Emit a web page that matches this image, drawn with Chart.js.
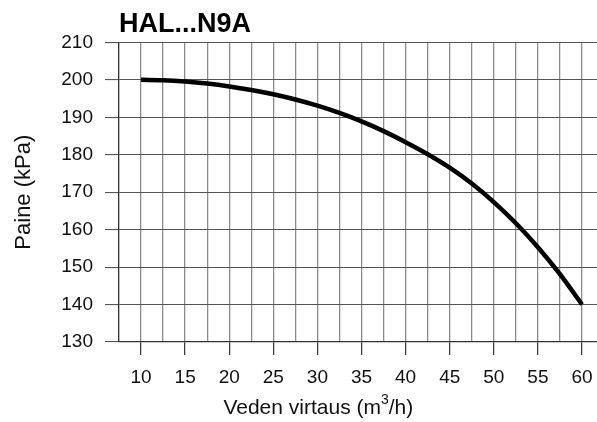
<!DOCTYPE html>
<html>
<head>
<meta charset="utf-8">
<script src="https://cdn.jsdelivr.net/npm/chart.js@4/dist/chart.umd.min.js"></script>
<style>
  body { margin: 0; background: #fff; }
  canvas { display: block; }
</style>
</head>
<body>
<canvas id="pumpChart" width="597" height="422"></canvas>
<script>
// Käyrän arvot luettu kuvasta
const chartTitle = "HAL...N9A";
const flow = [10, 12.5, 15, 17.5, 20, 22.5, 25, 27.5, 30, 32.5, 35, 37.5, 40, 42.5, 45, 47.5, 50, 52.5, 55, 57.5, 60];
const pressure = [200, 199.9, 199.55, 199.0, 198.25, 197.3, 196.15, 194.75, 193.1, 191.15, 188.9, 186.3, 183.35, 180.15, 176.55, 172.3, 167.35, 161.7, 155.3, 148.1, 140];
const xGridValues = [7.5, 10, 12.5, 15, 17.5, 20, 22.5, 25, 27.5, 30, 32.5, 35, 37.5, 40, 42.5, 45, 47.5, 50, 52.5, 55, 57.5, 60];
const yTitle = "Paine (kPa)";
const xTitleParts = ["Veden virtaus (m", "3", "/h)"];

const FONT = "'Liberation Sans', Arial, Helvetica, sans-serif";

// x-akselin otsikko yläindeksillä
const xTitlePlugin = {
  id: "xTitle",
  afterDraw(chart) {
    const ctx = chart.ctx;
    const xs = chart.scales.x;
    const cx = xs.getPixelForValue(30.1);
    const y = xs.bottom - 14;
    ctx.save();
    ctx.fillStyle = "#111";
    ctx.textBaseline = "middle";
    ctx.textAlign = "left";
    ctx.font = "21px " + FONT;
    const w1 = ctx.measureText(xTitleParts[0]).width;
    const w3 = ctx.measureText(xTitleParts[2]).width;
    ctx.font = "14px " + FONT;
    const w2 = ctx.measureText(xTitleParts[1]).width;
    let x = cx - (w1 + w2 + w3) / 2;
    ctx.font = "21px " + FONT;
    ctx.fillText(xTitleParts[0], x, y);
    x += w1;
    ctx.font = "14px " + FONT;
    ctx.fillText(xTitleParts[1], x, y - 8);
    x += w2;
    ctx.font = "21px " + FONT;
    ctx.fillText(xTitleParts[2], x, y);
    ctx.restore();
  }
};

const ctx = document.getElementById("pumpChart").getContext("2d");

const chart = new Chart(ctx, {
  type: "line",
  data: {
    datasets: [
      {
        data: flow.map((f, i) => ({ x: f, y: pressure[i] })),
        borderColor: "#000",
        borderWidth: 4.5,
        pointRadius: 0,
        cubicInterpolationMode: "monotone",
        fill: false,
      },
    ],
  },
  options: {
    responsive: false,
    animation: false,
    devicePixelRatio: 1,
    layout: { padding: 0 },
    plugins: {
      legend: { display: false },
      tooltip: { enabled: false },
      title: {
        display: true,
        text: chartTitle,
        align: "start",
        fullSize: false,
        color: "#000",
        font: { family: FONT, size: 27, weight: "bold" },
        padding: { top: 8, bottom: 2 },
      },
    },
    scales: {
      x: {
        type: "linear",
        min: 7.5,
        max: 61.7,
        afterBuildTicks: (axis) => {
          axis.ticks = xGridValues.map((v) => ({ value: v }));
        },
        afterFit: (scale) => {
          scale.height = 80;
          scale.paddingLeft = 0;
          scale.paddingRight = 0;
        },
        grid: {
          color: "#8c8c8c",
          lineWidth: 1.3,
          tickLength: 13,
          tickColor: (c) => (c.tick && c.tick.value % 5 === 0 ? "#333" : "rgba(0,0,0,0)"),
          tickWidth: 1.2,
        },
        border: { color: "#333", width: 1.2 },
        ticks: {
          autoSkip: false,
          maxRotation: 0,
          padding: 11,
          color: "#111",
          font: { family: FONT, size: 19 },
          callback: (v) => (v % 5 === 0 ? v : ""),
        },
      },
      y: {
        min: 130,
        max: 210,
        afterFit: (scale) => {
          scale.width = 119;
        },
        grid: {
          color: "#555",
          lineWidth: 1.1,
          tickLength: 14,
        },
        border: { color: "#333", width: 1.2 },
        ticks: {
          stepSize: 10,
          padding: 12,
          color: "#111",
          font: { family: FONT, size: 19 },
        },
        title: {
          display: true,
          text: yTitle,
          color: "#111",
          font: { family: FONT, size: 22 },
          padding: { top: 11, bottom: 0 },
        },
      },
    },
  },
  plugins: [xTitlePlugin],
});
</script>
</body>
</html>
